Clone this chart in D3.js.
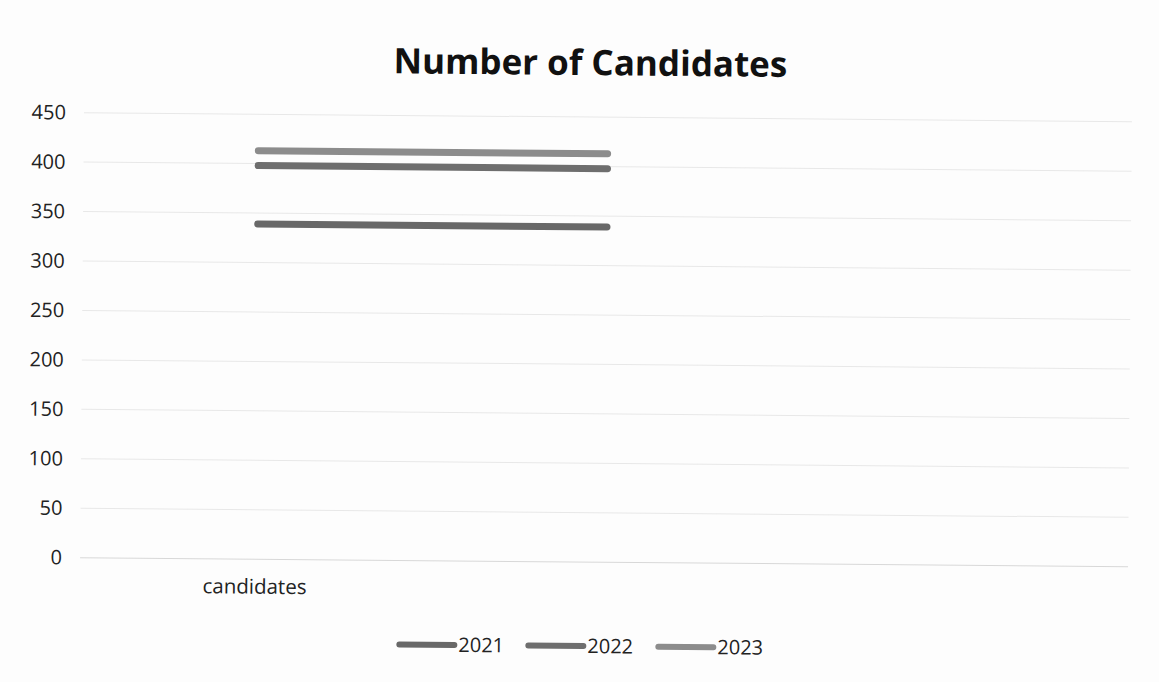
<!DOCTYPE html>
<html>
<head>
<meta charset="utf-8">
<script src="https://cdn.jsdelivr.net/npm/d3@7"></script>
<style>
  html, body { margin: 0; padding: 0; background: #fdfdfd; }
  svg { display: block; }
</style>
</head>
<body>
<svg id="chart" width="1159" height="682"></svg>
<script>
// Category slots along the x axis (only the first carries a label)
const categories = ["candidates", "", ""];
// Candidate counts per year; the third slot is empty
const values2021 = [339, 339, null];
const values2022 = [398, 398, null];
const values2023 = [413, 413, null];
const seriesNames = ["2021", "2022", "2023"];
const yTicks = [0, 50, 100, 150, 200, 250, 300, 350, 400, 450];

const series = [
  { name: seriesNames[0], values: values2021, color: "#686868" },
  { name: seriesNames[1], values: values2022, color: "#6e6e6e" },
  { name: seriesNames[2], values: values2023, color: "#8c8c8c" }
];

const W = 1159, H = 682;
const margin = { left: 82, right: 29 };
const font = "'Open Sans', 'Noto Sans', sans-serif";

const svg = d3.select("#chart");
// whole sheet sits slightly tilted
const root = svg.append("g").attr("transform", `rotate(0.5, ${W / 2}, ${H / 2})`);

root.append("text")
  .attr("x", 588).attr("y", 75)
  .attr("text-anchor", "middle")
  .attr("font-family", font)
  .attr("font-weight", 700)
  .attr("font-size", 35)
  .attr("fill", "#111")
  .text("Number of Candidates");

const x = d3.scaleBand()
  .domain(categories.map((c, i) => i))
  .range([margin.left, W - margin.right]);
const y = d3.scaleLinear()
  .domain([0, 450])
  .range([562, 117]);

// gridlines
root.append("g")
  .selectAll("line")
  .data(yTicks)
  .join("line")
  .attr("x1", margin.left).attr("x2", W - margin.right)
  .attr("y1", d => y(d)).attr("y2", d => y(d))
  .attr("stroke", d => d === 0 ? "#d8d8d8" : "#e8e8e8")
  .attr("stroke-width", 1);

// y axis labels
const yAxis = d3.axisLeft(y).tickValues(yTicks).tickSize(0).tickPadding(18);
root.append("g")
  .attr("transform", `translate(${margin.left},0)`)
  .call(yAxis)
  .call(g => g.select(".domain").remove())
  .call(g => g.selectAll("text")
    .attr("font-family", font)
    .attr("font-size", 20)
    .attr("fill", "#222"));

// x axis labels
const xAxis = d3.axisBottom(x).tickFormat(i => categories[i]).tickSize(0).tickPadding(20);
root.append("g")
  .attr("transform", `translate(0,${y(0)})`)
  .call(xAxis)
  .call(g => g.select(".domain").remove())
  .call(g => g.selectAll("text")
    .attr("font-family", font)
    .attr("font-size", 20.5)
    .attr("fill", "#222"));

// series lines
const line = d3.line()
  .defined(d => d.v != null)
  .x(d => x(d.i) + x.bandwidth() / 2)
  .y(d => y(d.v));

root.append("g")
  .selectAll("path")
  .data(series)
  .join("path")
  .attr("d", s => line(s.values.map((v, i) => ({ i, v }))))
  .attr("fill", "none")
  .attr("stroke", s => s.color)
  .attr("stroke-width", 7)
  .attr("stroke-linecap", "round");

// legend
const legendX = [402, 531, 661];
const legend = root.append("g")
  .selectAll("g")
  .data(series)
  .join("g")
  .attr("transform", (s, i) => `translate(${legendX[i]}, 646)`);
legend.append("line")
  .attr("x1", 0).attr("x2", 55)
  .attr("stroke", s => s.color)
  .attr("stroke-width", 6)
  .attr("stroke-linecap", "round");
legend.append("text")
  .attr("x", 59).attr("y", 7)
  .attr("font-family", font)
  .attr("font-size", 20)
  .attr("fill", "#222")
  .text(s => s.name);
</script>
</body>
</html>
